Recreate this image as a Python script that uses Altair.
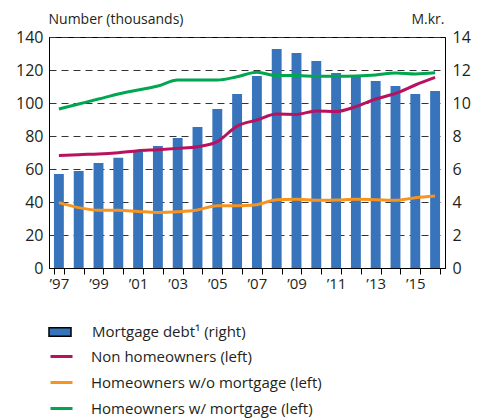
import altair as alt
import pandas as pd

years = [str(y) for y in range(1997, 2017)]

# Mortgage debt (right axis, M.kr.)
mortgage_debt = [5.7, 5.88, 6.37, 6.68, 7.03, 7.39, 7.88, 8.55, 9.64, 10.55,
                 11.64, 13.27, 13.03, 12.55, 11.82, 11.7, 11.33, 11.03, 10.55, 10.73]

# Numbers in thousands (left axis)
non_homeowners = [68.1, 68.7, 69.1, 69.9, 71.1, 71.7, 72.5, 73.5, 76.6, 86.0,
                  89.7, 93.3, 93.1, 95.2, 94.8, 97.8, 102.4, 105.8, 110.9, 115.5]
homeowners_wo = [39.6, 36.6, 35.0, 35.0, 34.3, 33.7, 34.1, 35.2, 37.8, 37.8,
                 38.4, 41.4, 41.6, 41.0, 41.2, 41.6, 41.4, 41.0, 42.6, 43.6]
homeowners_w = [96.4, 99.4, 102.4, 105.5, 107.9, 110.3, 113.9, 113.9, 113.9, 115.9,
                118.6, 116.6, 116.6, 116.2, 116.2, 116.4, 117.0, 118.2, 117.6, 118.3]

bar_label = "Mortgage debt\u00b9 (right)"
line_labels = ["Non homeowners (left)", "Homeowners w/o mortgage (left)",
               "Homeowners w/ mortgage (left)"]
line_colors = ["#B8125F", "#F7941D", "#00A650"]
bar_color = "#3874BB"

bars_df = pd.DataFrame({"year": years, "debt": mortgage_debt, "series": bar_label})
rows = []
for lab, vals in zip(line_labels, [non_homeowners, homeowners_wo, homeowners_w]):
    for y, v in zip(years, vals):
        rows.append({"year": y, "value": v, "series": lab})
lines_df = pd.DataFrame(rows)

FONT = "Open Sans"
TXT = "#231f20"

x_enc = alt.X(
    "year:O",
    scale=alt.Scale(paddingInner=0.5, paddingOuter=0.25),
    axis=alt.Axis(
        title=None,
        tickBand="extent",
        tickSize=6,
        tickColor="black",
        domainColor="black",
        labelAngle=0,
        labelPadding=2,
        labelFontSize=15,
        labelFont=FONT,
        labelColor=TXT,
        labelExpr="toNumber(datum.value) % 2 == 1 ? '\u2019' + substring(datum.value, 2, 4) : ''",
    ),
)

bars = alt.Chart(bars_df).mark_bar().encode(
    x=x_enc,
    y=alt.Y(
        "debt:Q",
        scale=alt.Scale(domain=[0, 14], nice=False),
        axis=alt.Axis(
            orient="right",
            values=list(range(0, 15, 2)),
            grid=False,
            ticks=False,
            domainColor="black",
            labelPadding=7,
            labelFontSize=16,
            labelFont=FONT,
            labelColor=TXT,
            title="M.kr.",
            titleAngle=0,
            titleAlign="right",
            titleBaseline="middle",
            titleX=-1,
            titleY=-18,
            titleFont=FONT,
            titleFontSize=14,
            titleFontWeight="normal",
            titleColor=TXT,
        ),
    ),
    fill=alt.Fill(
        "series:N",
        scale=alt.Scale(domain=[bar_label], range=[bar_color]),
        legend=alt.Legend(
            title=None,
            orient="none",
            legendX=-1,
            legendY=283,
            symbolType="M-1,-0.38H1V0.38H-1Z",
            symbolSize=484,
            symbolStrokeColor="black",
            symbolStrokeWidth=1.5,
            symbolFillColor=bar_color,
            labelFont=FONT,
            labelFontSize=15,
            labelColor=TXT,
            labelOffset=20,
            labelLimit=400,
            padding=0,
        ),
    ),
)

grid = alt.Chart(lines_df).mark_line(opacity=0).encode(
    x=x_enc,
    y=alt.Y(
        "value:Q",
        scale=alt.Scale(domain=[0, 140], nice=False),
        axis=alt.Axis(
            orient="left",
            values=list(range(0, 141, 20)),
            grid=True,
            gridDash=[7, 5],
            gridColor="#333333",
            gridWidth=1,
            ticks=False,
            domainColor="black",
            labelPadding=6,
            labelFontSize=16,
            labelFont=FONT,
            labelColor=TXT,
            title="Number (thousands)",
            titleAngle=0,
            titleAlign="left",
            titleBaseline="middle",
            titleX=-1,
            titleY=-18,
            titleFont=FONT,
            titleFontSize=14,
            titleFontWeight="normal",
            titleColor=TXT,
        ),
    ),
    detail="series:N",
)

lines = alt.Chart(lines_df).mark_line(strokeWidth=3, interpolate="monotone").encode(
    x=x_enc,
    y=alt.Y("value:Q", scale=alt.Scale(domain=[0, 140], nice=False), axis=None),
    stroke=alt.Stroke(
        "series:N",
        sort=line_labels,
        scale=alt.Scale(domain=line_labels, range=line_colors),
        legend=alt.Legend(
            title=None,
            orient="none",
            legendX=0,
            legendY=307,
            symbolType="stroke",
            symbolSize=484,
            symbolStrokeWidth=3,
            labelFont=FONT,
            labelFontSize=15,
            labelColor=TXT,
            labelOffset=17,
            labelLimit=400,
            rowPadding=5,
            padding=0,
        ),
    ),
)

chart = (
    alt.layer(grid, bars, lines)
    .resolve_scale(y="independent", fill="independent", stroke="independent")
    .properties(
        width=396,
        height=231,
        autosize=alt.AutoSizeParams(type="none"),
        padding={"left": 41, "top": 29, "right": 28, "bottom": 150},
    )
    .configure_view(stroke="black", strokeWidth=1)
)

chart.save("out.html", embed_options={"renderer": "svg", "actions": False})
